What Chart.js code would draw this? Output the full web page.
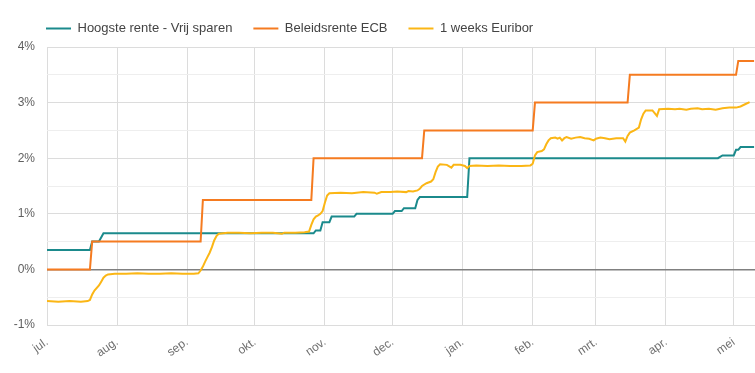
<!DOCTYPE html>
<html>
<head>
<meta charset="utf-8">
<script src="https://cdn.jsdelivr.net/npm/chart.js@4"></script>
<style>
  html, body { margin: 0; padding: 0; background: #fff; }
  #wrap { width: 755px; height: 373px; }
</style>
</head>
<body>
<div id="wrap"><canvas id="myChart"></canvas></div>
<script>
// dagen sinds 1 juli 2022
const monthDays = [0, 31, 62, 92, 123, 153, 184, 215, 243, 274, 304];
const monthLabels = ['jul.', 'aug.', 'sep.', 'okt.', 'nov.', 'dec.', 'jan.', 'feb.', 'mrt.', 'apr.', 'mei'];

const seriesNames = ['Hoogste rente - Vrij sparen', 'Beleidsrente ECB', '1 weeks Euribor'];

const spaarDays = [0, 19, 20, 23, 25, 118, 119, 121, 122, 125, 126, 136, 137, 153, 154, 157, 158, 163, 164, 165, 186, 187, 297, 299, 304, 305, 306, 307, 313];
const spaarRente = [0.35, 0.35, 0.5, 0.5, 0.65, 0.65, 0.7, 0.7, 0.85, 0.85, 0.95, 0.95, 1.0, 1.0, 1.05, 1.05, 1.1, 1.1, 1.25, 1.3, 1.3, 2.0, 2.0, 2.05, 2.05, 2.15, 2.15, 2.2, 2.2];

const ecbDays = [0, 19, 20, 68, 69, 117, 118, 166, 167, 215, 216, 257, 258, 305, 306, 313];
const ecbRente = [0, 0, 0.5, 0.5, 1.25, 1.25, 2.0, 2.0, 2.5, 2.5, 3.0, 3.0, 3.5, 3.5, 3.75, 3.75];

const euriborDays = [0, 5, 10, 15, 18, 19, 20, 21, 23, 24, 25, 26, 27, 30, 35, 40, 45, 50, 55, 60, 65, 67, 68, 69, 70, 71, 72, 73, 74, 75, 76, 78, 80, 85, 90, 95, 100, 104, 105, 110, 114, 116, 117, 118, 119, 120, 121, 122, 123, 124, 125, 130, 135, 140, 145, 146, 148, 152, 155, 159, 160, 162, 164, 165, 166, 168, 170, 171, 172, 173, 174, 177, 179, 180, 183, 185, 186, 187, 190, 195, 200, 205, 210, 214, 215, 216, 217, 219, 220, 221, 222, 223, 225, 226, 227, 228, 229, 230, 232, 234, 236, 238, 240, 242, 243, 245, 247, 249, 252, 255, 256, 257, 258, 260, 262, 263, 264, 265, 268, 270, 271, 275, 278, 280, 283, 285, 288, 290, 293, 296, 299, 302, 305, 307, 309, 311];
const euribor = [-0.57, -0.58, -0.57, -0.58, -0.57, -0.55, -0.45, -0.38, -0.29, -0.22, -0.15, -0.11, -0.09, -0.08, -0.08, -0.07, -0.08, -0.08, -0.07, -0.08, -0.08, -0.07, -0.02, 0.05, 0.14, 0.22, 0.30, 0.40, 0.52, 0.60, 0.64, 0.65, 0.66, 0.66, 0.65, 0.66, 0.66, 0.64, 0.66, 0.66, 0.67, 0.68, 0.80, 0.90, 0.95, 0.97, 1.00, 1.05, 1.20, 1.33, 1.37, 1.38, 1.37, 1.39, 1.38, 1.36, 1.39, 1.39, 1.40, 1.39, 1.41, 1.40, 1.42, 1.45, 1.50, 1.55, 1.58, 1.62, 1.75, 1.85, 1.89, 1.88, 1.83, 1.88, 1.88, 1.86, 1.82, 1.86, 1.87, 1.86, 1.87, 1.86, 1.86, 1.87, 1.90, 2.05, 2.11, 2.13, 2.16, 2.25, 2.32, 2.36, 2.37, 2.35, 2.37, 2.32, 2.36, 2.38, 2.35, 2.37, 2.38, 2.36, 2.35, 2.32, 2.35, 2.37, 2.36, 2.34, 2.36, 2.36, 2.30, 2.40, 2.46, 2.50, 2.55, 2.70, 2.80, 2.86, 2.86, 2.76, 2.88, 2.89, 2.88, 2.89, 2.87, 2.89, 2.90, 2.88, 2.89, 2.87, 2.90, 2.91, 2.91, 2.93, 2.97, 3.01];

const colors = ['#1b8a8c', '#f57b20', '#fbb615'];

function toPoints(days, values) {
  return days.map((d, i) => ({ x: d, y: values[i] }));
}

Chart.defaults.font.family = '"Liberation Sans", Arial, sans-serif';
Chart.defaults.color = '#666';

// legenda begint gelijk met de grafiek, niet met de canvasrand
const shiftLegend = {
  id: 'shiftLegend',
  afterLayout(chart) {
    chart.legend.left += 12;
    chart.legend.right += 12;
    chart.legend.top -= 2;
  }
};

const data = {
  datasets: [
    { label: seriesNames[0], data: toPoints(spaarDays, spaarRente), order: 3 },
    { label: seriesNames[1], data: toPoints(ecbDays, ecbRente), order: 2 },
    { label: seriesNames[2], data: toPoints(euriborDays, euribor), order: 1 }
  ].map((ds, i) => ({
    ...ds,
    borderColor: colors[i],
    backgroundColor: colors[i],
    borderWidth: 2,
    pointRadius: 0,
    tension: 0
  }))
};

const options = {
  responsive: true,
  maintainAspectRatio: false,
  animation: false,
  layout: { padding: { left: 13, right: 0, top: 3, bottom: 0 } },
  plugins: {
    tooltip: { enabled: false },
    legend: {
      position: 'top',
      align: 'start',
      labels: {
        boxWidth: 25,
        boxHeight: 2,
        padding: 21,
        color: '#444',
        font: { size: 13 },
        sort: (a, b) => a.datasetIndex - b.datasetIndex,
        generateLabels: (chart) =>
          Chart.defaults.plugins.legend.labels.generateLabels(chart).map(l => ({ ...l, lineWidth: 0 }))
      }
    }
  },
  scales: {
    x: {
      type: 'linear',
      min: 0,
      max: 313.4,
      afterBuildTicks: (scale) => { scale.ticks = monthDays.map(v => ({ value: v })); },
      afterFit: (scale) => { scale.height = 48; },
      grid: { color: '#dcdcdc', drawTicks: false },
      border: { color: '#dcdcdc' },
      ticks: {
        autoSkip: false,
        minRotation: 35,
        maxRotation: 35,
        padding: 10,
        font: { size: 12 },
        color: '#707070',
        callback: (value) => monthLabels[monthDays.indexOf(value)]
      }
    },
    y: {
      min: -1,
      max: 4,
      afterFit: (scale) => { scale.width = 34; },
      grid: {
        drawTicks: false,
        color: (ctx) => ctx.tick.value === 0 ? '#808080' : (Number.isInteger(ctx.tick.value) ? '#dcdcdc' : '#eeeeee'),
        lineWidth: (ctx) => ctx.tick.value === 0 ? 1.5 : 1
      },
      border: { display: false },
      ticks: {
        stepSize: 0.5,
        padding: 12,
        font: { size: 12 },
        color: '#606060',
        callback: (value) => Number.isInteger(value) ? value + '%' : ''
      }
    }
  }
};

let myChart = new Chart(document.getElementById('myChart').getContext('2d'), {
  type: 'line',
  data: data,
  options: options,
  plugins: [shiftLegend]
});
</script>
</body>
</html>
